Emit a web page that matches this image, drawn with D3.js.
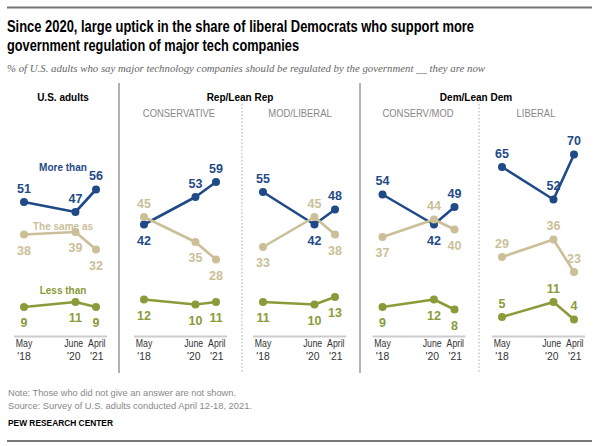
<!DOCTYPE html>
<html><head><meta charset="utf-8">
<script src="https://cdn.jsdelivr.net/npm/d3@7"></script>
<style>
body{margin:0;background:#fff;}
svg{display:block;}
text{font-family:"Liberation Sans",Arial,sans-serif;}
</style></head>
<body><svg id="c" width="598" height="446"></svg>
<script>
const dates = ["2018-05-15","2020-06-15","2021-04-15"];
const tickTop = ["May","June","April"];
const tickBottom = ["'18","'20","'21"];
const panels = ["U.S. adults","CONSERVATIVE","MOD/LIBERAL","CONSERV/MOD","LIBERAL"];
const moreThan = [[51,47,56],[42,53,59],[55,42,48],[54,42,49],[65,52,70]];
const sameAs   = [[38,39,32],[45,35,28],[33,45,38],[37,44,40],[29,36,23]];
const lessThan = [[9,11,9],[12,10,11],[11,10,13],[9,12,8],[5,11,4]];
// label position: 1 = above, -1 = below
const morePos = [[1,1,1],[-1,1,1],[1,-1,1],[1,-1,1],[1,1,1]];
const samePos = [[-1,-1,-1],[1,-1,-1],[-1,1,-1],[-1,1,-1],[1,1,1]];
const lessPos = [[-1,-1,-1],[-1,-1,-1],[-1,-1,-1],[-1,-1,-1],[1,1,1]];
const seriesNames = ["More than","The same as","Less than"];

const BLUE="#1f4a87", TAN="#cbbf98", GREEN="#8a9b3a";
const svg = d3.select("#c");
const parse = d3.timeParse("%Y-%m-%d");
const dts = dates.map(parse);

function condense(sel, f){
  sel.each(function(){
    const w = this.getComputedTextLength();
    d3.select(this).attr("textLength", w*f).attr("lengthAdjust","spacingAndGlyphs");
  });
  return sel;
}

// rules
svg.append("line").attr("x1",7).attr("x2",592).attr("y1",7.5).attr("y2",7.5).attr("stroke","#777").attr("stroke-width",2);
svg.append("line").attr("x1",7).attr("x2",592).attr("y1",441).attr("y2",441).attr("stroke","#777").attr("stroke-width",2);

// title
svg.append("text").attr("x",7).attr("y",32).attr("font-weight","bold").attr("font-size",15.8).attr("fill","#000")
  .attr("textLength",467).attr("lengthAdjust","spacingAndGlyphs")
  .text("Since 2020, large uptick in the share of liberal Democrats who support more");
svg.append("text").attr("x",7).attr("y",51).attr("font-weight","bold").attr("font-size",15.8).attr("fill","#000")
  .attr("textLength",292).attr("lengthAdjust","spacingAndGlyphs")
  .text("government regulation of major tech companies");
svg.append("text").attr("x",7).attr("y",72).attr("font-style","italic")
  .attr("font-size",11.2).attr("fill","#666").style("font-family","'Liberation Serif',serif")
  .attr("textLength",478).attr("lengthAdjust","spacingAndGlyphs")
  .text("% of U.S. adults who say major technology companies should be regulated by the government __ they are now");

// separators
[119,360].forEach(x=>svg.append("line").attr("x1",x).attr("x2",x).attr("y1",83).attr("y2",373).attr("stroke","#999").attr("stroke-width",1.5));
[242,479].forEach(x=>svg.append("line").attr("x1",x).attr("x2",x).attr("y1",104).attr("y2",373).attr("stroke","#aaa").attr("stroke-width",1).attr("stroke-dasharray","1.5,2"));

// group headers
[[63,"U.S. adults"],[240,"Rep/Lean Rep"],[476,"Dem/Lean Dem"]].forEach(([x,t])=>
  condense(svg.append("text").attr("x",x).attr("y",101).attr("text-anchor","middle").attr("font-weight","bold").attr("font-size",11.5).attr("fill","#000").text(t),0.87));
const subX=[null,179,300,418,536];
panels.forEach((p,i)=>{ if(i>0) condense(svg.append("text").attr("x",subX[i]).attr("y",117).attr("text-anchor","middle").attr("font-size",11.5).attr("fill","#888").text(p),0.82);});

const y = d3.scaleLinear().domain([0,70]).range([329.5,154.5]);
const lefts = [24,144,263,382.5,502];
const series = [[moreThan,morePos,BLUE],[sameAs,samePos,TAN],[lessThan,lessPos,GREEN]];
const tickShift = [0,-1.8,0.8];

panels.forEach((p,i)=>{
  const x = d3.scaleTime().domain([dts[0],dts[2]]).range([lefts[i],lefts[i]+72]);
  const g = svg.append("g");
  // axis baseline
  g.append("line").attr("x1",x.range()[0]-10).attr("x2",x.range()[1]+11).attr("y1",336.5).attr("y2",336.5).attr("stroke","#ccc").attr("stroke-width",2);
  dts.forEach((d,k)=>{
    condense(g.append("text").attr("x",x(d)+tickShift[k]).attr("y",347).attr("text-anchor","middle").attr("font-size",11.5).attr("fill","#333").text(tickTop[k]),0.76);
    condense(g.append("text").attr("x",x(d)+tickShift[k]).attr("y",360).attr("text-anchor","middle").attr("font-size",11.5).attr("fill","#333").text(tickBottom[k]),0.9);
  });
  series.forEach(([vals,pos,col])=>{
    const v = vals[i];
    const line = d3.line().x((d,k)=>x(dts[k])).y(d=>y(d));
    g.append("path").attr("d",line(v)).attr("fill","none").attr("stroke",col).attr("stroke-width",2.6).attr("stroke-linejoin","round");
    v.forEach((d,k)=>{
      g.append("circle").attr("cx",x(dts[k])).attr("cy",y(d)).attr("r",4).attr("fill",col);
      const above = pos[i][k]===1;
      g.append("text").attr("x",x(dts[k])).attr("y",y(d)+(above?-9.5:20)).attr("text-anchor","middle")
        .attr("font-weight","bold").attr("font-size",12.5).attr("fill",col).text(d);
    });
  });
});

// series labels
[[170.5,seriesNames[0],BLUE],[229.5,seriesNames[1],TAN],[293.5,seriesNames[2],GREEN]].forEach(([yy,t,c])=>
  condense(svg.append("text").attr("x",63).attr("y",yy).attr("text-anchor","middle").attr("font-weight","bold").attr("font-size",11.5).attr("fill",c).text(t),0.87));

// notes
svg.append("text").attr("x",8).attr("y",396).attr("font-size",9.8).attr("fill","#888").attr("textLength",228).attr("lengthAdjust","spacingAndGlyphs").text("Note: Those who did not give an answer are not shown.");
svg.append("text").attr("x",8).attr("y",409).attr("font-size",9.8).attr("fill","#888").attr("textLength",244).attr("lengthAdjust","spacingAndGlyphs").text("Source: Survey of U.S. adults conducted April 12-18, 2021.");
svg.append("text").attr("x",8).attr("y",426).attr("font-size",9.8).attr("font-weight","bold").attr("fill","#000").attr("textLength",105).attr("lengthAdjust","spacingAndGlyphs").text("PEW RESEARCH CENTER");
</script></body></html>
